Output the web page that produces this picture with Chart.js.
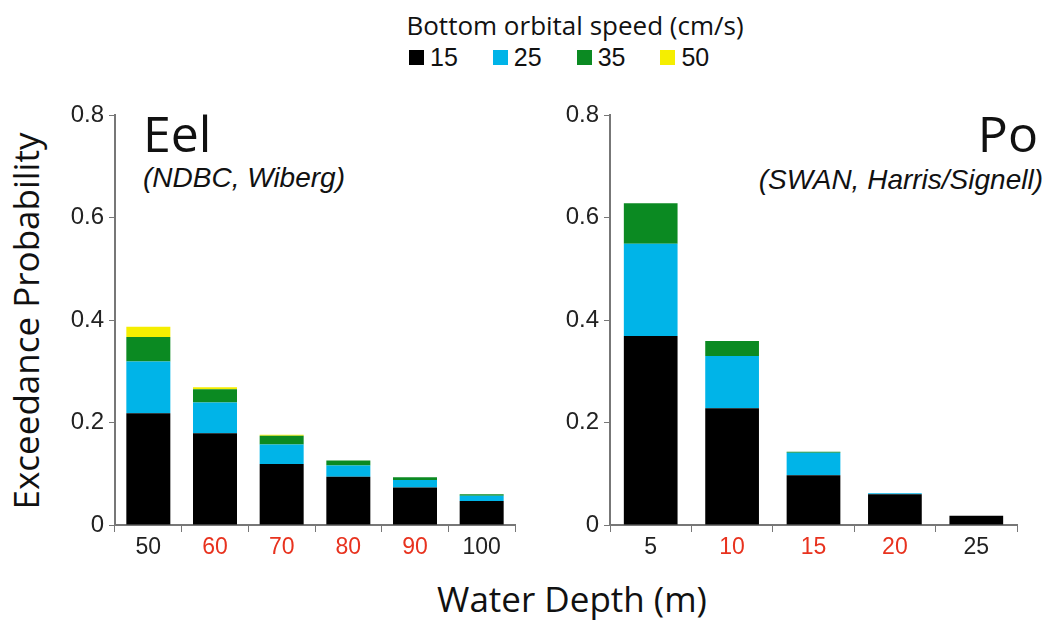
<!DOCTYPE html>
<html>
<head>
<meta charset="utf-8">
<script src="https://cdn.jsdelivr.net/npm/chart.js@4.4.0/dist/chart.umd.min.js"></script>
<style>
  body { margin: 0; background: #fff; width: 1047px; height: 621px; position: relative; overflow: hidden; font-family: "Open Sans", "Noto Sans", sans-serif; color: #111; }
  .abs { position: absolute; white-space: nowrap; }
  #legendTitle { left: 575px; top: 25px; transform: translate(-50%, -50%); font-size: 26px; }
  #legendRow { left: 409px; top: 43px; font-family: "Liberation Sans", Arial, sans-serif; font-size: 25px; display: flex; align-items: center; }
  #legendRow span.sw { display: inline-block; width: 15px; height: 15px; margin-right: 6px; }
  #legendRow span.lb { margin-right: 35px; }
  .big { font-size: 50px; line-height: 1; }
  .sub { font-family: "Liberation Sans", Arial, sans-serif; font-style: italic; font-size: 28px; }
  #yTitle { left: 25px; top: 321px; transform: translate(-50%, -50%) rotate(-90deg); font-size: 35px; }
  #xTitle { left: 572px; top: 598px; transform: translate(-50%, -50%); font-size: 35px; }
  canvas { position: absolute; }
</style>
</head>
<body>
<div id="legendTitle" class="abs">Bottom orbital speed (cm/s)</div>
<div id="legendRow" class="abs"></div>
<div class="abs big" style="left:143px; top:108px;">Eel</div>
<div class="abs sub" style="left:143px; top:162px;">(NDBC, Wiberg)</div>
<div class="abs big" style="right:9px; top:108px;">Po</div>
<div class="abs sub" style="right:4px; top:164px;">(SWAN, Harris/Signell)</div>
<div id="yTitle" class="abs">Exceedance Probability</div>
<div id="xTitle" class="abs">Water Depth (m)</div>
<div style="position:absolute; left:0; top:90px; width:530px; height:475px;"><canvas id="eel"></canvas></div>
<div style="position:absolute; left:530px; top:90px; width:517px; height:475px;"><canvas id="po"></canvas></div>
<script>
// speed thresholds (cm/s) and colours
const speeds = ['15', '25', '35', '50'];
const colors = ['#000000', '#00b4e8', '#0b8a22', '#f5ee00'];

// Eel shelf, water depth (m)
const eelDepths = ['50', '60', '70', '80', '90', '100'];
const eel15 = [0.218, 0.179, 0.119, 0.094, 0.073, 0.047];
const eel25 = [0.101, 0.060, 0.038, 0.022, 0.015, 0.010];
const eel35 = [0.048, 0.026, 0.017, 0.010, 0.005, 0.003];
const eel50 = [0.020, 0.004, 0.002, 0.000, 0.000, 0.000];

// Po shelf, water depth (m)
const poDepths = ['5', '10', '15', '20', '25'];
const po15 = [0.369, 0.228, 0.097, 0.060, 0.018];
const po25 = [0.180, 0.102, 0.044, 0.002, 0.000];
const po35 = [0.079, 0.029, 0.002, 0.000, 0.000];
const po50 = [0.000, 0.000, 0.000, 0.000, 0.000];

const yTicks = [0, 0.2, 0.4, 0.6, 0.8];
const redLabels = ['60', '70', '80', '90', '10', '15', '20'];

// legend
const row = document.getElementById('legendRow');
speeds.forEach((s, i) => {
    row.innerHTML += '<span class="sw" style="background:' + colors[i] + '"></span><span class="lb">' + s + '</span>';
});

Chart.defaults.animation = false;
Chart.defaults.font.family = '"Liberation Sans", Arial, sans-serif';

function makeChart(id, labels, series, yWidth, padRight) {
    const ctx = document.getElementById(id).getContext('2d');
    new Chart(ctx, {
        type: 'bar',
        data: {
            labels: labels,
            datasets: series.map((d, i) => ({
                label: speeds[i],
                data: d,
                backgroundColor: colors[i],
                borderWidth: 0,
                barPercentage: 0.66,
                categoryPercentage: 1.0
            }))
        },
        options: {
            responsive: true,
            maintainAspectRatio: false,
            layout: { padding: { top: 25, right: padRight, left: 0, bottom: 0 } },
            plugins: { legend: { display: false }, tooltip: { enabled: false } },
            scales: {
                x: {
                    stacked: true,
                    grid: { drawOnChartArea: false, drawTicks: true, tickLength: 7, color: '#777' },
                    border: { display: true, color: '#777', width: 2 },
                    ticks: {
                        font: { size: 23 },
                        padding: 2,
                        color: c => redLabels.includes(labels[c.index]) ? '#e8321e' : '#222'
                    },
                    afterFit: s => { s.height = 40; }
                },
                y: {
                    stacked: true,
                    min: 0,
                    max: 0.8,
                    afterBuildTicks: s => { s.ticks = yTicks.map(v => ({ value: v })); },
                    grid: { drawOnChartArea: false, drawTicks: true, tickLength: 6, color: '#777' },
                    border: { display: true, color: '#777', width: 2 },
                    ticks: {
                        font: { size: 24 },
                        color: '#222',
                        padding: 5,
                        callback: v => v === 0 ? '0' : String(v)
                    },
                    afterFit: s => { s.width = yWidth; }
                }
            }
        }
    });
}

makeChart('eel', eelDepths, [eel15, eel25, eel35, eel50], 115, 15);
makeChart('po', poDepths, [po15, po25, po35, po50], 80, 30);
</script>
</body>
</html>
